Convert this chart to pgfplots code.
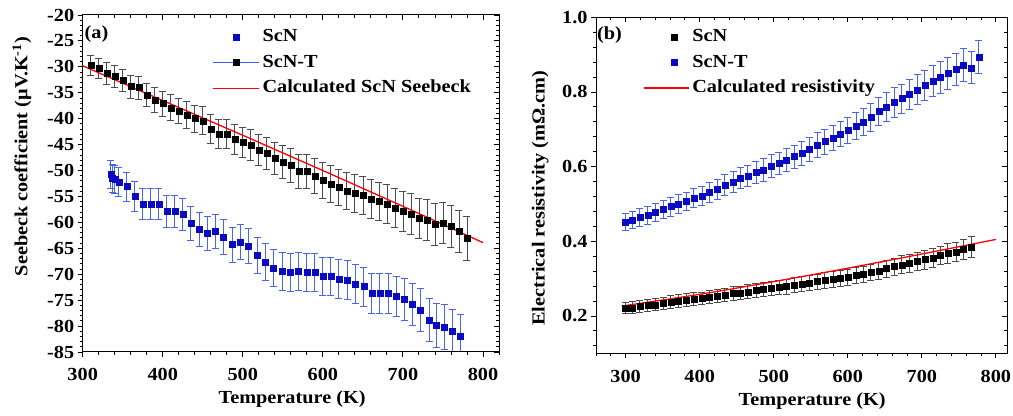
\documentclass[border=0pt]{standalone}
\usepackage{fontspec}
\setmainfont{Liberation Serif}[FakeStretch=1.1]
\usepackage{pgfplots}
\usepackage{pgfplotstable}
\pgfplotsset{compat=1.18}

\definecolor{scnblue}{RGB}{10,10,195}
\definecolor{barblue}{RGB}{70,100,240}
\definecolor{bargray}{RGB}{75,75,75}
\definecolor{legblue}{RGB}{60,90,245}

% (a) Seebeck coefficient, ScN-T
\pgfplotstableread{
T S e
310 -29.7 2.0
320 -30.3 2.0
330 -31.2 2.1
340 -31.9 2.1
350 -32.6 2.2
360 -33.8 2.2
370 -34.0 2.2
380 -35.4 2.3
390 -36.4 2.4
400 -37.1 2.4
410 -37.9 2.5
420 -38.5 2.5
430 -39.3 2.6
440 -40.0 2.6
450 -40.4 2.7
460 -42.0 2.8
470 -43.0 2.8
480 -43.0 2.8
490 -44.0 2.9
500 -44.6 2.9
510 -45.1 3.0
520 -46.1 3.0
530 -46.7 3.1
540 -47.6 3.1
550 -48.3 3.2
560 -49.0 3.2
570 -50.1 3.3
580 -50.1 3.3
590 -51.1 3.4
600 -51.9 3.4
610 -52.6 3.5
620 -53.3 3.5
630 -53.9 3.6
640 -54.4 3.6
650 -54.8 3.6
660 -55.5 3.7
670 -56.0 3.7
680 -56.4 3.7
690 -57.2 3.8
700 -57.9 3.8
710 -58.4 3.9
720 -59.2 3.9
730 -59.5 3.9
740 -60.4 4.0
750 -60.1 4.0
760 -60.8 4.0
770 -61.7 4.1
780 -63.1 4.2
}\seebeckT

% (a) Seebeck coefficient, ScN
\pgfplotstableread{
T S e
335 -50.8 2.7
337 -51.5 2.7
340 -51.7 2.7
345 -52.2 2.8
355 -53.1 2.8
365 -55.0 2.9
375 -56.5 3.0
385 -56.5 3.0
395 -56.5 3.0
405 -57.9 3.1
415 -57.9 3.1
425 -58.5 3.1
435 -60.2 3.2
446 -61.4 3.3
456 -62.1 3.3
466 -61.7 3.3
476 -62.8 3.3
487 -64.3 3.4
497 -63.8 3.4
507 -64.6 3.4
518 -66.3 3.5
528 -67.6 3.6
538 -68.8 3.6
549 -69.5 3.7
559 -69.6 3.7
569 -69.5 3.7
580 -69.6 3.7
590 -69.6 3.7
600 -70.4 3.7
610 -70.4 3.7
620 -70.9 3.8
631 -71.1 3.8
641 -71.9 3.8
651 -72.4 3.8
661 -73.7 3.9
671 -73.7 3.9
682 -73.7 3.9
692 -74.3 3.9
702 -74.9 4.0
712 -75.8 4.0
722 -76.9 4.1
733 -78.8 4.2
742 -79.9 4.2
752 -80.2 4.3
762 -81.0 4.3
772 -82.0 4.3
}\seebeckN

% (a) calculated Seebeck coefficient
\pgfplotstableread{
T S
300 -29.8
400 -36.5
500 -43.2
600 -50.0
700 -56.9
800 -63.9
}\seebeckCalc

% (b) resistivity, ScN-T
\pgfplotstableread{
T r e
300 0.452 0.023
309 0.457 0.023
319 0.464 0.023
330 0.470 0.024
340 0.478 0.024
351 0.486 0.024
361 0.493 0.025
371 0.500 0.025
382 0.507 0.025
392 0.516 0.026
403 0.522 0.026
413 0.532 0.027
424 0.540 0.027
434 0.551 0.028
445 0.558 0.028
455 0.570 0.029
465 0.575 0.029
476 0.585 0.029
486 0.591 0.030
497 0.602 0.030
507 0.609 0.030
517 0.618 0.031
528 0.627 0.031
538 0.636 0.032
548 0.647 0.032
559 0.658 0.033
569 0.667 0.033
580 0.677 0.034
590 0.688 0.034
600 0.698 0.035
611 0.709 0.035
621 0.720 0.036
631 0.732 0.037
642 0.748 0.037
652 0.760 0.038
663 0.772 0.039
673 0.782 0.039
683 0.794 0.040
694 0.806 0.040
704 0.818 0.041
715 0.829 0.041
725 0.839 0.042
735 0.850 0.043
746 0.861 0.043
756 0.872 0.044
767 0.865 0.043
777 0.894 0.045
}\resT

% (b) resistivity, ScN
\pgfplotstableread{
T r e
300 0.221 0.015
309 0.222 0.016
319 0.225 0.016
330 0.228 0.016
340 0.230 0.016
351 0.234 0.016
361 0.237 0.017
371 0.240 0.017
382 0.243 0.017
392 0.246 0.017
403 0.247 0.017
413 0.251 0.018
424 0.254 0.018
434 0.256 0.018
445 0.260 0.018
455 0.262 0.018
465 0.265 0.019
476 0.269 0.019
486 0.271 0.019
497 0.274 0.019
507 0.277 0.019
517 0.279 0.020
528 0.282 0.020
538 0.286 0.020
548 0.288 0.020
559 0.292 0.020
569 0.296 0.021
580 0.298 0.021
590 0.301 0.021
600 0.304 0.021
611 0.308 0.022
621 0.312 0.022
631 0.317 0.022
642 0.321 0.022
652 0.327 0.023
663 0.332 0.023
673 0.337 0.024
683 0.341 0.024
694 0.346 0.024
704 0.351 0.025
715 0.356 0.025
725 0.362 0.025
735 0.368 0.026
746 0.372 0.026
756 0.379 0.027
767 0.385 0.027
}\resN

% (b) calculated resistivity
\pgfplotstableread{
T r
300 0.228
400 0.258
500 0.292
600 0.328
700 0.366
800 0.405
}\resCalc

\newcommand\figfont{\fontsize{18.5}{20}\selectfont\bfseries}

\pgfplotsset{
  panel/.style={
    scale only axis,
    axis line style={line width=1bp, black},
    every tick/.style={black, line width=0.9bp},
    major tick length=5bp,
    minor tick length=3bp,
    /pgf/number format/assume math mode=true,
    tick label style={font=\figfont},
    xticklabel style={yshift=-8bp},
    label style={font=\figfont},
    legend style={font=\figfont},
  },
  mirror/.style={
    scale only axis,
    axis line style={line width=1bp, black},
    every tick/.style={black, line width=0.9bp},
    major tick length=5bp,
    minor tick length=3bp,
    xtick pos=top, ytick pos=right,
    tick align=inside,
    xticklabels={}, yticklabels={},
  },
  blackpts/.style={
    only marks, mark=square*, mark size=3bp,
    mark options={black, fill=black},
    error bars/y dir=both, error bars/y explicit,
    error bars/error bar style={bargray, line width=0.8bp},
    error bars/error mark options={bargray, rotate=90, mark size=3.5bp, line width=0.8bp},
  },
  bluepts/.style={
    only marks, mark=square*, mark size=3bp,
    mark options={scnblue, fill=scnblue},
    error bars/y dir=both, error bars/y explicit,
    error bars/error bar style={barblue, line width=0.8bp},
    error bars/error mark options={barblue, rotate=90, mark size=3.5bp, line width=0.8bp},
  },
  % legend cells of fixed height so that rows are evenly spaced
  figlegend/.style={
    draw=none, fill=none, inner sep=0pt, row sep=8.5bp,
    nodes={inner xsep=3bp, inner ysep=0bp, text height=13bp, text depth=4bp},
  },
}

\begin{document}
\begin{tikzpicture}
\useasboundingbox (0,0) rectangle (1013bp,416bp);

% ---------- (a) Seebeck coefficient ----------
\begin{axis}[panel,
  at={(82.7bp,64bp)}, anchor=south west,
  width=416.3bp, height=337bp,
  xmin=300, xmax=820, ymin=-85, ymax=-20,
  xtick={300,400,...,800}, ytick={-85,-80,...,-20},
  minor xtick={300,320,...,820}, minor ytick={-85,-84,...,-20},
  xtick pos=bottom, ytick pos=left, tick align=outside,
  xlabel={Temperature (K)},
  ylabel={Seebeck coefficient (μV.K\textsuperscript{-1})},
  xlabel style={at={(axis description cs:0.503,-0.14)}, anchor=center},
  ylabel style={at={(axis description cs:-0.146,0.58)}, anchor=center},
  legend style={figlegend, at={(axis description cs:0.3106,0.96)}, anchor=north west},
  legend cell align=left,
]
\addlegendimage{legend image code/.code={
  \path[draw=none, fill=none] (0bp,-3bp) rectangle (46bp,3bp);
  \fill[scnblue] (20bp,-3bp) rectangle (26bp,3bp);}}
\addlegendimage{legend image code/.code={
  \path[draw=none, fill=none] (0bp,-3bp) rectangle (46bp,3bp);
  \draw[legblue, line width=0.8bp] (0bp,0bp) -- (46bp,0bp);
  \fill[black] (20bp,-3bp) rectangle (26bp,3bp);}}
\addlegendimage{legend image code/.code={
  \path[draw=none, fill=none] (0bp,-3bp) rectangle (46bp,3bp);
  \draw[red, line width=1.3bp] (0bp,0bp) -- (46bp,0bp);}}
\legend{ScN, ScN-T, Calculated ScN Seebeck}

\addplot[blackpts, forget plot] table[x=T, y=S, y error=e] {\seebeckT};
\addplot[bluepts, forget plot] table[x=T, y=S, y error=e] {\seebeckN};
\addplot[red, line width=1.3bp, forget plot] table[x=T, y=S] {\seebeckCalc};

\node[font=\figfont] at (axis description cs:0.033,0.944) {(a)};
\end{axis}
\begin{axis}[mirror,
  at={(82.7bp,64bp)}, anchor=south west,
  width=416.3bp, height=337bp,
  xmin=300, xmax=820, ymin=-85, ymax=-20,
  xtick={300,400,...,800}, ytick={-85,-80,...,-20},
  minor xtick={300,320,...,820}, minor ytick={-85,-84,...,-20},
]
\end{axis}

% ---------- (b) electrical resistivity ----------
\begin{axis}[panel,
  at={(596bp,62.7bp)}, anchor=south west,
  width=411bp, height=336bp,
  xmin=260, xmax=815, ymin=0.1, ymax=1.0,
  xtick={300,400,...,800}, ytick={0.2,0.4,0.6,0.8,1.0},
  minor xtick={260,280,...,800},
  minor ytick={0.12,0.16,0.24,0.28,0.32,0.36,0.44,0.48,0.52,0.56,0.64,0.68,0.72,0.76,0.84,0.88,0.92,0.96},
  yticklabel style={/pgf/number format/.cd, fixed, fixed zerofill, precision=1},
  xtick pos=bottom, ytick pos=left, tick align=outside,
  xlabel={Temperature (K)},
  ylabel={Electrical resistivity (mΩ.cm)},
  xlabel style={at={(axis description cs:0.526,-0.142)}, anchor=center},
  ylabel style={at={(axis description cs:-0.136,0.462)}, anchor=center},
  legend style={figlegend, at={(axis description cs:0.114,0.967)}, anchor=north west},
  legend cell align=left,
]
\addlegendimage{legend image code/.code={
  \path[draw=none, fill=none] (0bp,-3bp) rectangle (45bp,3bp);
  \fill[black] (27bp,-3bp) rectangle (33bp,3bp);}}
\addlegendimage{legend image code/.code={
  \path[draw=none, fill=none] (0bp,-3bp) rectangle (45bp,3bp);
  \fill[scnblue] (27bp,-3bp) rectangle (33bp,3bp);}}
\addlegendimage{legend image code/.code={
  \path[draw=none, fill=none] (0bp,-3bp) rectangle (45bp,3bp);
  \draw[red, line width=1.3bp] (0bp,0bp) -- (45bp,0bp);}}
\legend{ScN, ScN-T, Calculated resistivity}

\addplot[bluepts, forget plot] table[x=T, y=r, y error=e] {\resT};
\addplot[blackpts, forget plot] table[x=T, y=r, y error=e] {\resN};
\addplot[red, line width=1.3bp, smooth, forget plot] table[x=T, y=r] {\resCalc};

\node[font=\figfont] at (axis description cs:0.033,0.947) {(b)};
\end{axis}
\begin{axis}[mirror,
  at={(596bp,62.7bp)}, anchor=south west,
  width=411bp, height=336bp,
  xmin=260, xmax=815, ymin=0.1, ymax=1.0,
  xtick={300,400,...,800}, ytick={0.2,0.4,0.6,0.8,1.0},
  minor xtick={260,280,...,800},
  minor ytick={0.12,0.16,0.24,0.28,0.32,0.36,0.44,0.48,0.52,0.56,0.64,0.68,0.72,0.76,0.84,0.88,0.92,0.96},
]
\end{axis}
\end{tikzpicture}
\end{document}
